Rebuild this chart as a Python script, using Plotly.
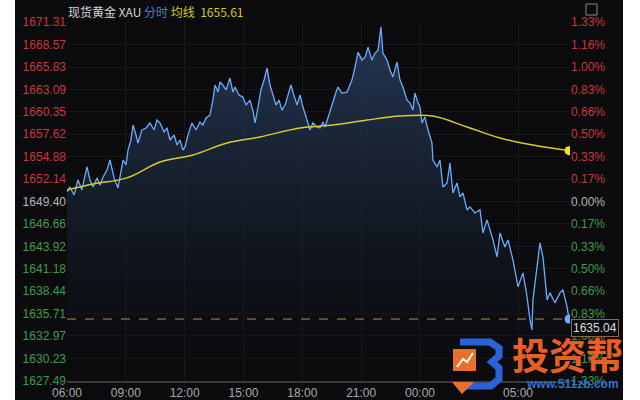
import plotly.graph_objects as go

# ---------------- data ----------------
hours = [0, 0.15, 0.36, 0.56, 0.76, 1.02, 1.17, 1.33, 1.53, 1.68, 1.84, 2.04, 2.19, 2.40, 2.60, 2.75, 2.86,
         3.01, 3.11, 3.26, 3.37, 3.52, 3.62, 3.82, 4.03, 4.23, 4.44, 4.59, 4.74, 4.95, 5.10, 5.25, 5.46,
         5.61, 5.76, 5.91, 6.02, 6.17, 6.37, 6.58, 6.78, 6.93, 7.09, 7.29, 7.44, 7.55, 7.70, 7.80, 7.95,
         8.11, 8.31, 8.46, 8.57, 8.77, 8.97, 9.13, 9.33, 9.48, 9.59, 9.74, 9.89, 10.05, 10.20, 10.35,
         10.50, 10.66, 10.81, 10.96, 11.12, 11.27, 11.42, 11.57, 11.73, 11.88, 12.03, 12.24, 12.39, 12.54,
         12.75, 12.90, 13.05, 13.16, 13.31, 13.56, 13.72, 13.82, 14.02, 14.28, 14.43, 14.53, 14.69, 14.84,
         15.04, 15.20, 15.35, 15.55, 15.71, 15.86, 16.01, 16.11, 16.32, 16.47, 16.62, 16.83, 16.98, 17.13,
         17.34, 17.49, 17.64, 17.74, 17.90, 18.00, 18.10, 18.25, 18.41, 18.61, 18.66, 18.87, 19.02, 19.17,
         19.38, 19.53, 19.68, 19.89, 20.04, 20.19, 20.40, 20.55, 20.80, 21.06, 21.21, 21.42, 21.57, 21.72,
         21.93, 22.08, 22.33, 22.49, 22.74, 23.00, 23.25, 23.46, 23.61, 23.71, 23.76, 23.97, 24.12, 24.27,
         24.48, 24.63, 24.88, 25.14, 25.29, 25.50, 25.60]
price = [1650.57, 1651.18, 1650.20, 1652.03, 1650.81, 1653.62, 1652.03, 1651.18, 1652.28, 1651.42, 1652.40,
         1653.25, 1654.47, 1652.28, 1651.05, 1653.25, 1654.47, 1653.86, 1655.69, 1656.91, 1658.74, 1657.52,
         1656.55, 1658.13, 1658.38, 1658.99, 1658.13, 1659.35, 1658.99, 1657.89, 1658.38, 1656.91, 1657.52,
         1656.30, 1656.91, 1655.69, 1656.06, 1657.52, 1658.99, 1658.13, 1659.11, 1658.74, 1659.60, 1659.96,
         1661.79, 1663.63, 1662.77, 1663.99, 1663.63, 1663.02, 1664.48, 1662.77, 1663.38, 1662.41, 1662.16,
         1661.18, 1661.79, 1660.57, 1658.99, 1660.94, 1663.02, 1664.24, 1665.70, 1663.63, 1662.41, 1661.18,
         1661.79, 1660.57, 1661.18, 1662.41, 1663.63, 1662.41, 1661.18, 1662.41, 1660.94, 1659.35, 1658.13,
         1658.99, 1658.50, 1658.38, 1659.11, 1658.50, 1659.72, 1661.79, 1662.77, 1663.38, 1662.65, 1662.77,
         1663.63, 1664.24, 1665.82, 1667.65, 1666.68, 1667.04, 1668.26, 1666.68, 1667.53, 1667.90, 1670.70,
         1667.53, 1666.68, 1665.46, 1664.60, 1666.43, 1664.24, 1663.38, 1661.79, 1661.43, 1660.57, 1662.65,
         1661.43, 1660.94, 1658.99, 1659.72, 1658.13, 1656.55, 1654.47, 1653.62, 1654.47, 1651.18, 1651.66,
         1654.11, 1650.44, 1651.66, 1649.96, 1650.44, 1648.37, 1648.74, 1648.00, 1648.37, 1645.56, 1647.15,
         1645.93, 1644.71, 1642.63, 1645.56, 1643.85, 1644.71, 1642.27, 1638.97, 1640.68, 1637.75, 1634.94,
         1633.72, 1637.38, 1641.90, 1644.34, 1642.63, 1637.38, 1638.24, 1637.02, 1638.24, 1638.61, 1636.53,
         1635.04]

avg_hours = [0, 1.33, 3.06, 4.74, 6.42, 8.16, 9.84, 11.88, 13.56, 15.30, 16.98, 18.66, 20.40, 22.08, 23.76, 25.60]
avg_price = [1650.81, 1651.54, 1652.28, 1654.23, 1655.08, 1656.55, 1657.28, 1658.38, 1658.74, 1659.35,
             1659.84, 1659.84, 1658.50, 1657.16, 1656.30, 1655.61]

prev_close = 1649.40
last_price = 1635.04
avg_last = 1655.61

y_ticks = [1671.31, 1668.57, 1665.83, 1663.09, 1660.35, 1657.62, 1654.88, 1652.14, 1649.40,
           1646.66, 1643.92, 1641.18, 1638.44, 1635.71, 1632.97, 1630.23, 1627.49]
pct_labels = ["1.33%", "1.16%", "1.00%", "0.83%", "0.66%", "0.50%", "0.33%", "0.17%", "0.00%",
              "0.17%", "0.33%", "0.50%", "0.66%", "0.83%", "1.00%", "1.16%", "1.33%"]
x_tickvals = [0, 3, 6, 9, 12, 15, 18, 23]
x_ticktext = ["06:00", "09:00", "12:00", "15:00", "18:00", "21:00", "00:00", "05:00"]

# ---------------- styling ----------------
RED = "#c8383c"
GREEN = "#3f9a4c"
GRAY = "#b4b4b4"
BG = "#0b0b0d"
PL, PR, PT, PB = 67, 570, 22, 381   # plot box in pixels
W, H = 640, 400


def px(x):
    return (x - PL) / (PR - PL)


def py(y):
    return (PB - y) / (PB - PT)


def col(v):
    if abs(v - prev_close) < 0.005:
        return GRAY
    return RED if v > prev_close else GREEN


left_text = ['<span style="color:%s">%.2f</span>' % (col(v), v) for v in y_ticks]
right_text = ['<span style="color:%s">%s</span>' % (col(v), t) for v, t in zip(y_ticks, pct_labels)]

fig = go.Figure()

fig.add_trace(go.Scatter(
    x=hours, y=price, mode="lines", line=dict(color="#6eaaf8", width=1.3),
    fill="tozeroy",
    fillgradient=dict(type="vertical",
                      colorscale=[[0, "rgba(12,16,24,0.0)"], [0.5, "rgba(24,36,54,0.6)"],
                                  [1, "rgba(38,56,86,0.9)"]],
                      start=1627.49, stop=1668.0),
    hoverinfo="skip", showlegend=False))

fig.add_trace(go.Scatter(
    x=avg_hours, y=avg_price, mode="lines", line=dict(color="#d6cc2e", width=1.4, shape="spline"),
    hoverinfo="skip", showlegend=False))

fig.add_trace(go.Scatter(x=[avg_hours[-1]], y=[avg_last], mode="markers",
                         marker=dict(color="#f2e21e", size=9), showlegend=False, hoverinfo="skip"))
fig.add_trace(go.Scatter(x=[hours[-1]], y=[last_price], mode="markers",
                         marker=dict(color="#6eaaf8", size=9), showlegend=False, hoverinfo="skip"))

# invisible trace for right axis
fig.add_trace(go.Scatter(x=[hours[0]], y=[prev_close], yaxis="y2", mode="markers",
                         marker=dict(opacity=0), showlegend=False, hoverinfo="skip"))

yr = [1627.47, 1671.33]
fig.update_layout(
    width=W, height=H,
    margin=dict(l=PL, r=W - PR, t=PT, b=H - PB),
    paper_bgcolor="white",
    plot_bgcolor=BG,
    font=dict(family="Arial, Liberation Sans, sans-serif", size=12, color=GRAY),
    xaxis=dict(range=[0, 25.65], tickmode="array", tickvals=x_tickvals, ticktext=x_ticktext,
               showgrid=True, gridcolor="#17191d", gridwidth=1, zeroline=False, automargin=False,
               showline=True, linecolor="#3a3a3a", linewidth=2, ticks="",
               tickfont=dict(color="#a8a8a8", size=12)),
    yaxis=dict(range=yr, tickmode="array", tickvals=y_ticks, ticktext=left_text, automargin=False,
               showgrid=True, gridcolor="#141619", zeroline=False, ticks="",
               tickfont=dict(size=12)),
    yaxis2=dict(range=yr, overlaying="y", side="right", tickmode="array", tickvals=y_ticks,
                ticktext=right_text, showgrid=False, zeroline=False, ticks="", automargin=False,
                tickfont=dict(size=12)),
)

shapes = [
    # dark panel behind everything
    dict(type="rect", xref="paper", yref="paper", x0=px(15), x1=px(623), y0=py(400), y1=py(0),
         fillcolor=BG, line=dict(width=0), layer="below"),
    # last price dashed line
    dict(type="line", xref="paper", yref="y", x0=0, x1=1, y0=last_price, y1=last_price,
         line=dict(color="#c8843a", width=1, dash="dash")),
    # small icon top right
    dict(type="rect", xref="paper", yref="paper", x0=px(586), x1=px(597), y0=py(15), y1=py(4),
         line=dict(color="#8a8a8a", width=1), fillcolor="rgba(0,0,0,0)"),
]


# watermark logo approximation
def path(points):
    return "M " + " L ".join("%f,%f" % (px(a), py(b)) for a, b in points)


shapes.append(dict(type="path", xref="paper", yref="paper",
                   path=path([(460, 342), (490, 342), (499, 348), (499, 356), (492, 362),
                              (499, 368), (499, 379), (491, 386), (466, 386)]),
                   line=dict(color="#2a62d8", width=7), fillcolor="rgba(0,0,0,0)"))
shapes.append(dict(type="rect", xref="paper", yref="paper", x0=px(453), x1=px(476), y0=py(371), y1=py(349),
                   fillcolor="#e8702a", line=dict(width=0)))
shapes.append(dict(type="path", xref="paper", yref="paper",
                   path=path([(457, 367), (463, 359), (467, 362), (473, 353)]),
                   line=dict(color="white", width=2), fillcolor="rgba(0,0,0,0)"))
shapes.append(dict(type="path", xref="paper", yref="paper",
                   path=path([(452, 382), (474, 382), (462, 394)]) + " Z",
                   fillcolor="#e8702a", line=dict(width=0)))

annotations = [
    dict(xref="paper", yref="paper", x=px(66), y=py(12), xanchor="left", yanchor="middle",
         showarrow=False,
         text='<span style="color:#d4d4d4">现货黄金 XAU</span> <span style="color:#3f80d6">分时</span>'
              ' <span style="color:#d3c832">均线</span>  <span style="color:#d3c832">%.2f</span>' % avg_last,
         font=dict(family="Noto Sans CJK SC, Arial", size=12)),
    dict(xref="paper", yref="y", x=1, y=last_price, xanchor="left", yanchor="top", showarrow=False,
         text="%.2f" % last_price, font=dict(color="#dcdcdc", size=12),
         bgcolor="#0b0b0d", bordercolor="#8a6a3c", borderwidth=1, borderpad=1, xshift=1),
    dict(xref="paper", yref="paper", x=px(567), y=py(354), xanchor="center", yanchor="middle",
         showarrow=False, text="<b>投资帮</b>",
         font=dict(family="Noto Sans CJK SC", size=37, color="#e85e24")),
    dict(xref="paper", yref="paper", x=px(572), y=py(384), xanchor="center", yanchor="middle",
         showarrow=False, text="<b>www.511zb.com</b>",
         font=dict(family="Arial", size=12, color="#2f6fd8")),
]

fig.update_layout(shapes=shapes, annotations=annotations)

fig.write_html("out.html", config={"displayModeBar": False},
               post_script="document.body.style.margin='0px';")
